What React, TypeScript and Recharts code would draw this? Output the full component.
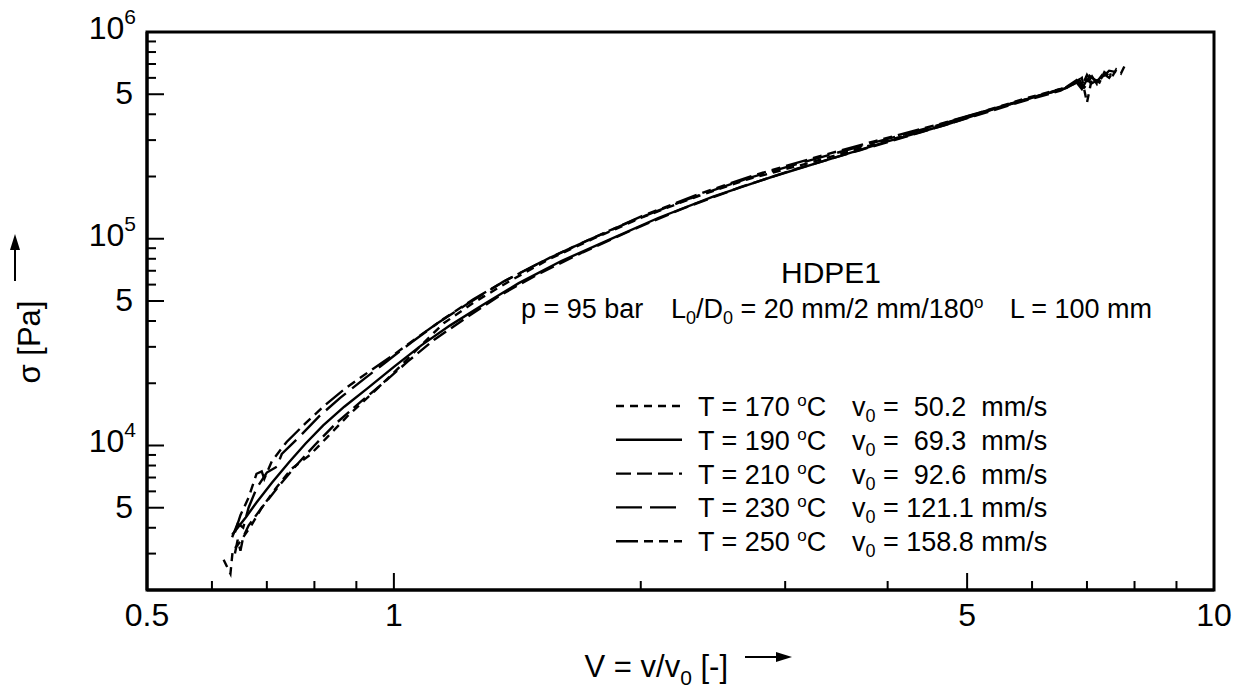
import React from 'react';
import { LineChart, Line, XAxis, YAxis, ReferenceArea } from 'recharts';

const FONT = '"Liberation Sans", Arial, sans-serif';

// axis ticks
const X_TICKS = [0.5, 0.6, 0.7, 0.8, 0.9, 1, 2, 3, 4, 5, 6, 7, 8, 9, 10];
const X_LABELS = [0.5, 1, 5, 10];
const Y_TICKS = [
  2000, 3000, 4000, 5000, 6000, 7000, 8000, 9000,
  10000, 20000, 30000, 40000, 50000, 60000, 70000, 80000, 90000,
  100000, 200000, 300000, 400000, 500000, 600000, 700000, 800000, 900000, 1000000,
];

// T = 170 °C
const V_170 = [0.62, 0.632, 0.636, 0.645, 0.655, 0.67, 0.69, 0.72, 0.75, 0.79, 0.83, 0.88, 0.94, 1.0, 1.07, 1.15, 1.25, 1.38, 1.55, 1.75, 2.0, 2.3, 2.7, 3.2, 3.8, 4.5, 5.2, 5.9, 6.5, 6.75, 6.9, 7.0, 7.1, 7.25, 7.35, 7.5, 7.6, 7.7, 7.8];
const S_170 = [2800, 2400, 3100, 3300, 3600, 4100, 5000, 6300, 7700, 9000, 11000, 14000, 17800, 22500, 29500, 39000, 49000, 62000, 80000, 100000, 126000, 156000, 194000, 232000, 282000, 342000, 410000, 478000, 530000, 560000, 600000, 455000, 600000, 570000, 640000, 600000, 660000, 630000, 700000];

// T = 190 °C
const V_190 = [0.635, 0.645, 0.66, 0.68, 0.71, 0.745, 0.78, 0.82, 0.87, 0.93, 1.0, 1.08, 1.17, 1.28, 1.42, 1.6, 1.82, 2.1, 2.45, 2.9, 3.4, 4.0, 4.7, 5.4, 6.1, 6.6, 6.8, 6.9, 7.0, 7.1];
const S_190 = [3700, 4000, 4500, 5300, 6600, 8300, 10200, 12500, 15400, 19000, 24000, 30500, 38000, 47500, 61000, 78000, 98000, 126000, 160000, 200000, 243000, 296000, 355000, 425000, 490000, 535000, 570000, 530000, 590000, 560000];

// T = 210 °C
const V_210 = [0.64, 0.645, 0.65, 0.655, 0.665, 0.69, 0.72, 0.76, 0.8, 0.85, 0.91, 0.97, 1.04, 1.12, 1.22, 1.35, 1.5, 1.7, 1.95, 2.25, 2.65, 3.1, 3.7, 4.4, 5.1, 5.8, 6.5, 6.8, 6.95, 7.1, 7.2, 7.35, 7.45, 7.55];
const S_210 = [3000, 3500, 3100, 3600, 4100, 5000, 6200, 8000, 10000, 12800, 16200, 20000, 25500, 32500, 41000, 53500, 67500, 86000, 110000, 140000, 178000, 218000, 268000, 328000, 392000, 458000, 520000, 575000, 540000, 610000, 560000, 625000, 600000, 650000];

// T = 230 °C
const V_230 = [0.635, 0.645, 0.655, 0.665, 0.68, 0.7, 0.72, 0.73, 0.77, 0.81, 0.86, 0.92, 0.98, 1.05, 1.13, 1.23, 1.36, 1.52, 1.72, 1.98, 2.3, 2.7, 3.2, 3.8, 4.5, 5.2, 5.9, 6.6, 6.85, 6.95, 7.05, 7.2, 7.35, 7.5];
const S_230 = [3600, 4200, 4000, 5000, 6200, 7400, 7900, 9100, 11200, 13800, 17000, 21000, 25500, 31500, 39000, 48500, 62000, 78000, 98000, 125000, 157000, 196000, 238000, 288000, 345000, 408000, 472000, 535000, 590000, 530000, 615000, 575000, 640000, 620000];

// T = 250 °C
const V_250 = [0.64, 0.65, 0.665, 0.68, 0.69, 0.695, 0.71, 0.74, 0.78, 0.82, 0.87, 0.93, 1.0, 1.07, 1.15, 1.25, 1.38, 1.55, 1.76, 2.0, 2.35, 2.75, 3.25, 3.85, 4.55, 5.3, 6.0, 6.6, 6.8, 6.9, 7.0, 7.1, 7.3, 7.45, 7.6];
const S_250 = [3800, 4600, 5600, 7300, 7500, 6900, 8400, 10400, 12800, 15400, 18700, 22600, 27500, 33500, 41000, 51000, 64000, 81000, 102000, 128000, 164000, 203000, 246000, 296000, 352000, 418000, 482000, 540000, 585000, 545000, 620000, 565000, 600000, 650000, 640000];

const TEMPS = ['170', '190', '210', '230', '250'];
const V0 = [' 50.2 ', ' 69.3 ', ' 92.6 ', '121.1', '158.8'];

const toPoints = (vs: number[], ss: number[]) => vs.map((v, i) => ({ v, s: ss[i] }));

const series = [
  { key: 't170', data: toPoints(V_170, S_170), dash: '8 6' },
  { key: 't190', data: toPoints(V_190, S_190), dash: undefined },
  { key: 't210', data: toPoints(V_210, S_210), dash: '15 6' },
  { key: 't230', data: toPoints(V_230, S_230), dash: '26 8' },
  { key: 't250', data: toPoints(V_250, S_250), dash: '22 6 9 6 9 6' },
];

const XTick = (props: any) => {
  const { x, y, payload } = props;
  const major = X_LABELS.includes(payload.value);
  return (
    <g>
      <line x1={x} y1={y} x2={x} y2={y - (major ? 17 : 9)} stroke="#000" strokeWidth={2} />
      {major && (
        <text x={x} y={y + 36} textAnchor="middle" fontSize={32} fontFamily={FONT} fill="#000">
          {payload.value}
        </text>
      )}
    </g>
  );
};

const YTick = (props: any) => {
  const { x, y, payload } = props;
  const v = payload.value;
  const exp = Math.floor(Math.log10(v) + 1e-9);
  const lead = Math.round(v / Math.pow(10, exp));
  const major = lead === 1 || lead === 5;
  return (
    <g>
      <line x1={x} y1={y} x2={x + (major ? 17 : 9)} y2={y} stroke="#000" strokeWidth={2} />
      {lead === 1 && (
        <text x={x - 11} y={y + 7} textAnchor="end" fontSize={32} fontFamily={FONT} fill="#000">
          10<tspan dy={-15} fontSize={21}>{exp}</tspan>
        </text>
      )}
      {lead === 5 && (
        <text x={x - 14} y={y + 10} textAnchor="end" fontSize={32} fontFamily={FONT} fill="#000">
          5
        </text>
      )}
    </g>
  );
};

const LEG_X0 = 616;
const LEG_X1 = 682;
const LEG_Y0 = 406;
const LEG_DY = 33.8;

export default function App() {
  return (
    <div style={{ position: 'absolute', left: 0, top: 0, width: 1244, height: 693, background: '#fff' }}>
      <LineChart width={1244} height={693} margin={{ top: 32, right: 30, bottom: 0, left: 0 }}>
        <XAxis
          dataKey="v"
          type="number"
          scale="log"
          domain={[0.5, 10]}
          ticks={X_TICKS}
          interval={0}
          allowDataOverflow
          height={103}
          tickSize={0}
          tickMargin={0}
          tickLine={false}
          axisLine={{ stroke: '#000', strokeWidth: 3 }}
          tick={<XTick />}
        />
        <YAxis
          dataKey="s"
          type="number"
          scale="log"
          domain={[2000, 1000000]}
          ticks={Y_TICKS}
          interval={0}
          allowDataOverflow
          width={147}
          tickSize={0}
          tickMargin={0}
          tickLine={false}
          axisLine={{ stroke: '#000', strokeWidth: 3 }}
          tick={<YTick />}
        />
        <ReferenceArea x1={0.5} x2={10} y1={2000} y2={1000000} fill="none" fillOpacity={0} stroke="#000" strokeWidth={3} />
        {series.map((s) => (
          <Line
            key={s.key}
            data={s.data}
            dataKey="s"
            type="linear"
            stroke="#000"
            strokeWidth={2.4}
            strokeDasharray={s.dash}
            dot={false}
            activeDot={false}
            isAnimationActive={false}
          />
        ))}
      </LineChart>

      <svg
        width={1244}
        height={693}
        style={{ position: 'absolute', left: 0, top: 0, pointerEvents: 'none' }}
        fontFamily={FONT}
      >
        {/* axis titles */}
        <text x={728} y={677} textAnchor="end" fontSize={31} fill="#000">
          V = v/v<tspan dy={8} fontSize={21}>0</tspan>
          <tspan dy={-8}> [-]</tspan>
        </text>
        <line x1={745} y1={657} x2={778} y2={657} stroke="#000" strokeWidth={2} />
        <polygon points="776,652 792,657 776,662" fill="#000" />

        <text transform="translate(40,342) rotate(-90)" textAnchor="middle" fontSize={31} fill="#000">
          σ [Pa]
        </text>
        <line x1={15} y1={281} x2={15} y2={248} stroke="#000" strokeWidth={2} />
        <polygon points="10,250 15,234 20,250" fill="#000" />

        {/* annotations */}
        <text x={831} y={283} textAnchor="middle" fontSize={30} fill="#000">HDPE1</text>
        <text x={521} y={318} fontSize={27} fill="#000">p = 95 bar</text>
        <text x={671} y={318} fontSize={27} fill="#000" xmlSpace="preserve" style={{ whiteSpace: 'pre' }}>
          L<tspan dy={6} fontSize={18}>0</tspan>
          <tspan dy={-6}>/D</tspan>
          <tspan dy={6} fontSize={18}>0</tspan>
          <tspan dy={-6}> = 20 mm/2 mm/180</tspan>
          <tspan dy={-10} fontSize={17}>o</tspan>
        </text>
        <text x={1152} y={318} textAnchor="end" fontSize={27} fill="#000">L = 100 mm</text>

        {/* legend */}
        {series.map((s, i) => {
          const cy = LEG_Y0 + i * LEG_DY;
          return (
            <g key={s.key}>
              <line x1={LEG_X0} y1={cy} x2={LEG_X1} y2={cy} stroke="#000" strokeWidth={2.4} strokeDasharray={s.dash} />
              <text x={698} y={cy + 10} fontSize={27} fill="#000">
                {`T = ${TEMPS[i]} `}
                <tspan dy={-10} fontSize={17}>o</tspan>
                <tspan dy={10}>C</tspan>
              </text>
              <text x={852} y={cy + 10} fontSize={27} fill="#000" xmlSpace="preserve" style={{ whiteSpace: 'pre' }}>
                v<tspan dy={6} fontSize={18}>0</tspan>
                <tspan dy={-6}>{` = ${V0[i]} mm/s`}</tspan>
              </text>
            </g>
          );
        })}
      </svg>
    </div>
  );
}
